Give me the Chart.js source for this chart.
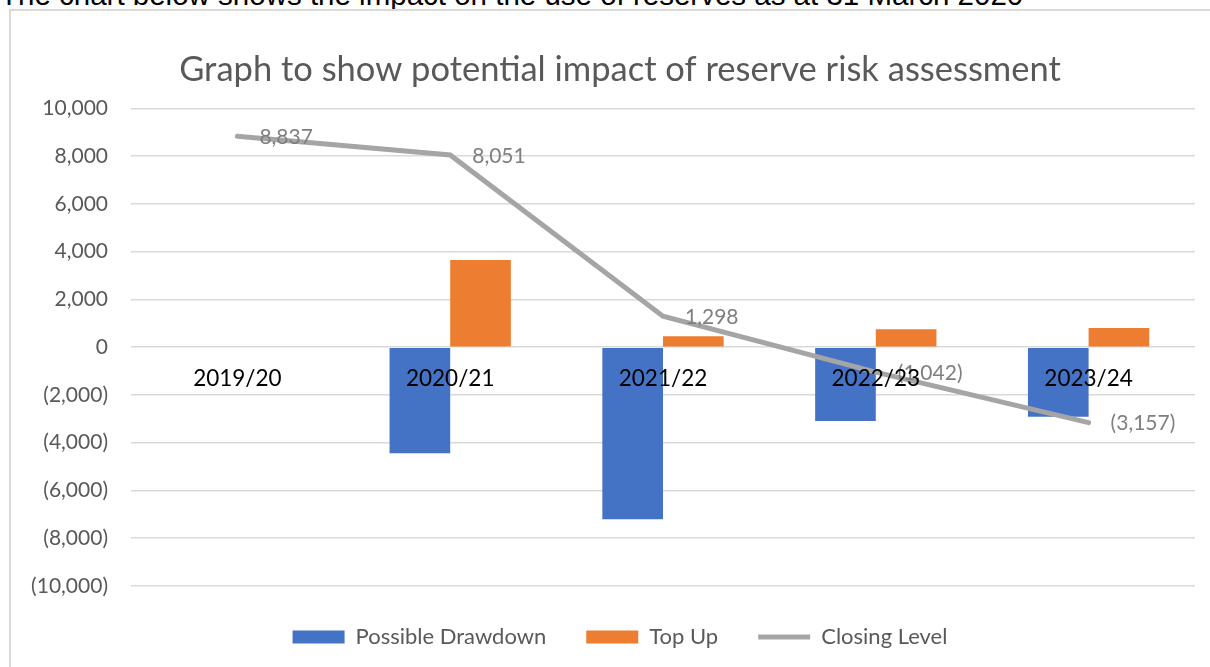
<!DOCTYPE html>
<html>
<head>
<meta charset="utf-8">
<script src="https://cdn.jsdelivr.net/npm/chart.js@4"></script>
<style>
  html, body { margin: 0; padding: 0; width: 1210px; height: 667px; overflow: hidden; background: #fff; }
  #intro { position: absolute; left: 0; top: -20px; font: 29.5px/1 "Liberation Sans", Arial, sans-serif; color: #000; white-space: nowrap; }
  #box { position: absolute; left: 9px; top: 9px; width: 1210px; height: 680px; border: 2px solid #d9d9d9; }
  #wrap { position: absolute; left: 11px; top: 11px; width: 1199px; height: 656px; }
</style>
</head>
<body>
<div id="intro">The chart below shows the impact on the use of reserves as at 31 March 2020</div>
<div id="box"></div>
<div id="wrap"><canvas id="grafico"></canvas></div>
<script>
/* ---------- datos ---------- */
const anios = ['2019/20', '2020/21', '2021/22', '2022/23', '2023/24'];
const drawdown = [null, -4440, -7210, -3095, -2915];
const topUp = [null, 3654, 457, 755, 800];
const cierre = [8837, 8051, 1298, -1042, -3157];

const fmt = v => {
  const s = Math.abs(v).toLocaleString('en-GB');
  return v < 0 ? '(' + s + ')' : s;
};

Chart.defaults.font.family = 'Lato';

// etiquetas de la linea (a la derecha de cada punto)
const etiquetasLinea = {
  id: 'etiquetasLinea',
  afterLayout(chart) {
    // que las etiquetas del eje Y no se recorten por la izquierda
    chart.scales.y.left = 0;
  },
  afterDatasetsDraw(chart) {
    const { ctx } = chart;
    const meta = chart.getDatasetMeta(2);
    ctx.save();
    ctx.font = '21px Lato';
    ctx.fillStyle = '#7f7f7f';
    ctx.textAlign = 'left';
    ctx.textBaseline = 'middle';
    meta.data.forEach((p, i) => {
      ctx.fillText(fmt(cierre[i]), p.x + 22, p.y + 1);
    });
    ctx.restore();
  }
};

new Chart(grafico, {
  type: 'bar',
  data: {
    labels: anios,
    datasets: [
      { label: 'Possible Drawdown', data: drawdown, backgroundColor: '#4472c4', order: 1 },
      { label: 'Top Up', data: topUp, backgroundColor: '#ed7d31', order: 1 },
      { type: 'line', label: 'Closing Level', data: cierre, borderColor: '#a5a5a5', backgroundColor: '#a5a5a5',
        borderWidth: 5, pointRadius: 0, tension: 0, borderCapStyle: 'round', order: 0 }
    ]
  },
  options: {
    responsive: true,
    maintainAspectRatio: false,
    animation: false,
    layout: { padding: { top: 0, right: 15, bottom: 9, left: 34 } },
    datasets: { bar: { categoryPercentage: 0.57, barPercentage: 1 } },
    scales: {
      x: {
        position: { y: 0 },
        grid: { display: false, drawTicks: false },
        border: { display: false },
        ticks: { z: 1, color: '#000', font: { size: 22.5 }, padding: 18, maxRotation: 0 }
      },
      y: {
        min: -10000, max: 10000,
        afterFit(scale) { scale.width = 86; },
        grid: { color: '#d9d9d9', lineWidth: 1.5, drawTicks: false },
        border: { display: false },
        ticks: { stepSize: 2000, color: '#595959', font: { size: 21 }, padding: 23, callback: v => fmt(v) }
      }
    },
    plugins: {
      title: {
        display: true,
        text: 'Graph to show potential impact of reserve risk assessment',
        color: '#595959',
        font: { size: 34.5, weight: 'normal' },
        padding: { top: 38, bottom: 18 }
      },
      legend: {
        position: 'bottom',
        labels: {
          color: '#595959',
          font: { size: 22 },
          usePointStyle: true,
          pointStyleWidth: 52,
          boxHeight: 13,
          padding: 40,
          generateLabels(chart) {
            const items = Chart.defaults.plugins.legend.labels.generateLabels(chart);
            items.sort((a, b) => a.datasetIndex - b.datasetIndex);
            items.forEach(it => { it.pointStyle = it.datasetIndex === 2 ? 'line' : 'rect'; });
            return items;
          }
        }
      },
      tooltip: { enabled: false }
    }
  },
  plugins: [etiquetasLinea]
});
</script>
</body>
</html>
